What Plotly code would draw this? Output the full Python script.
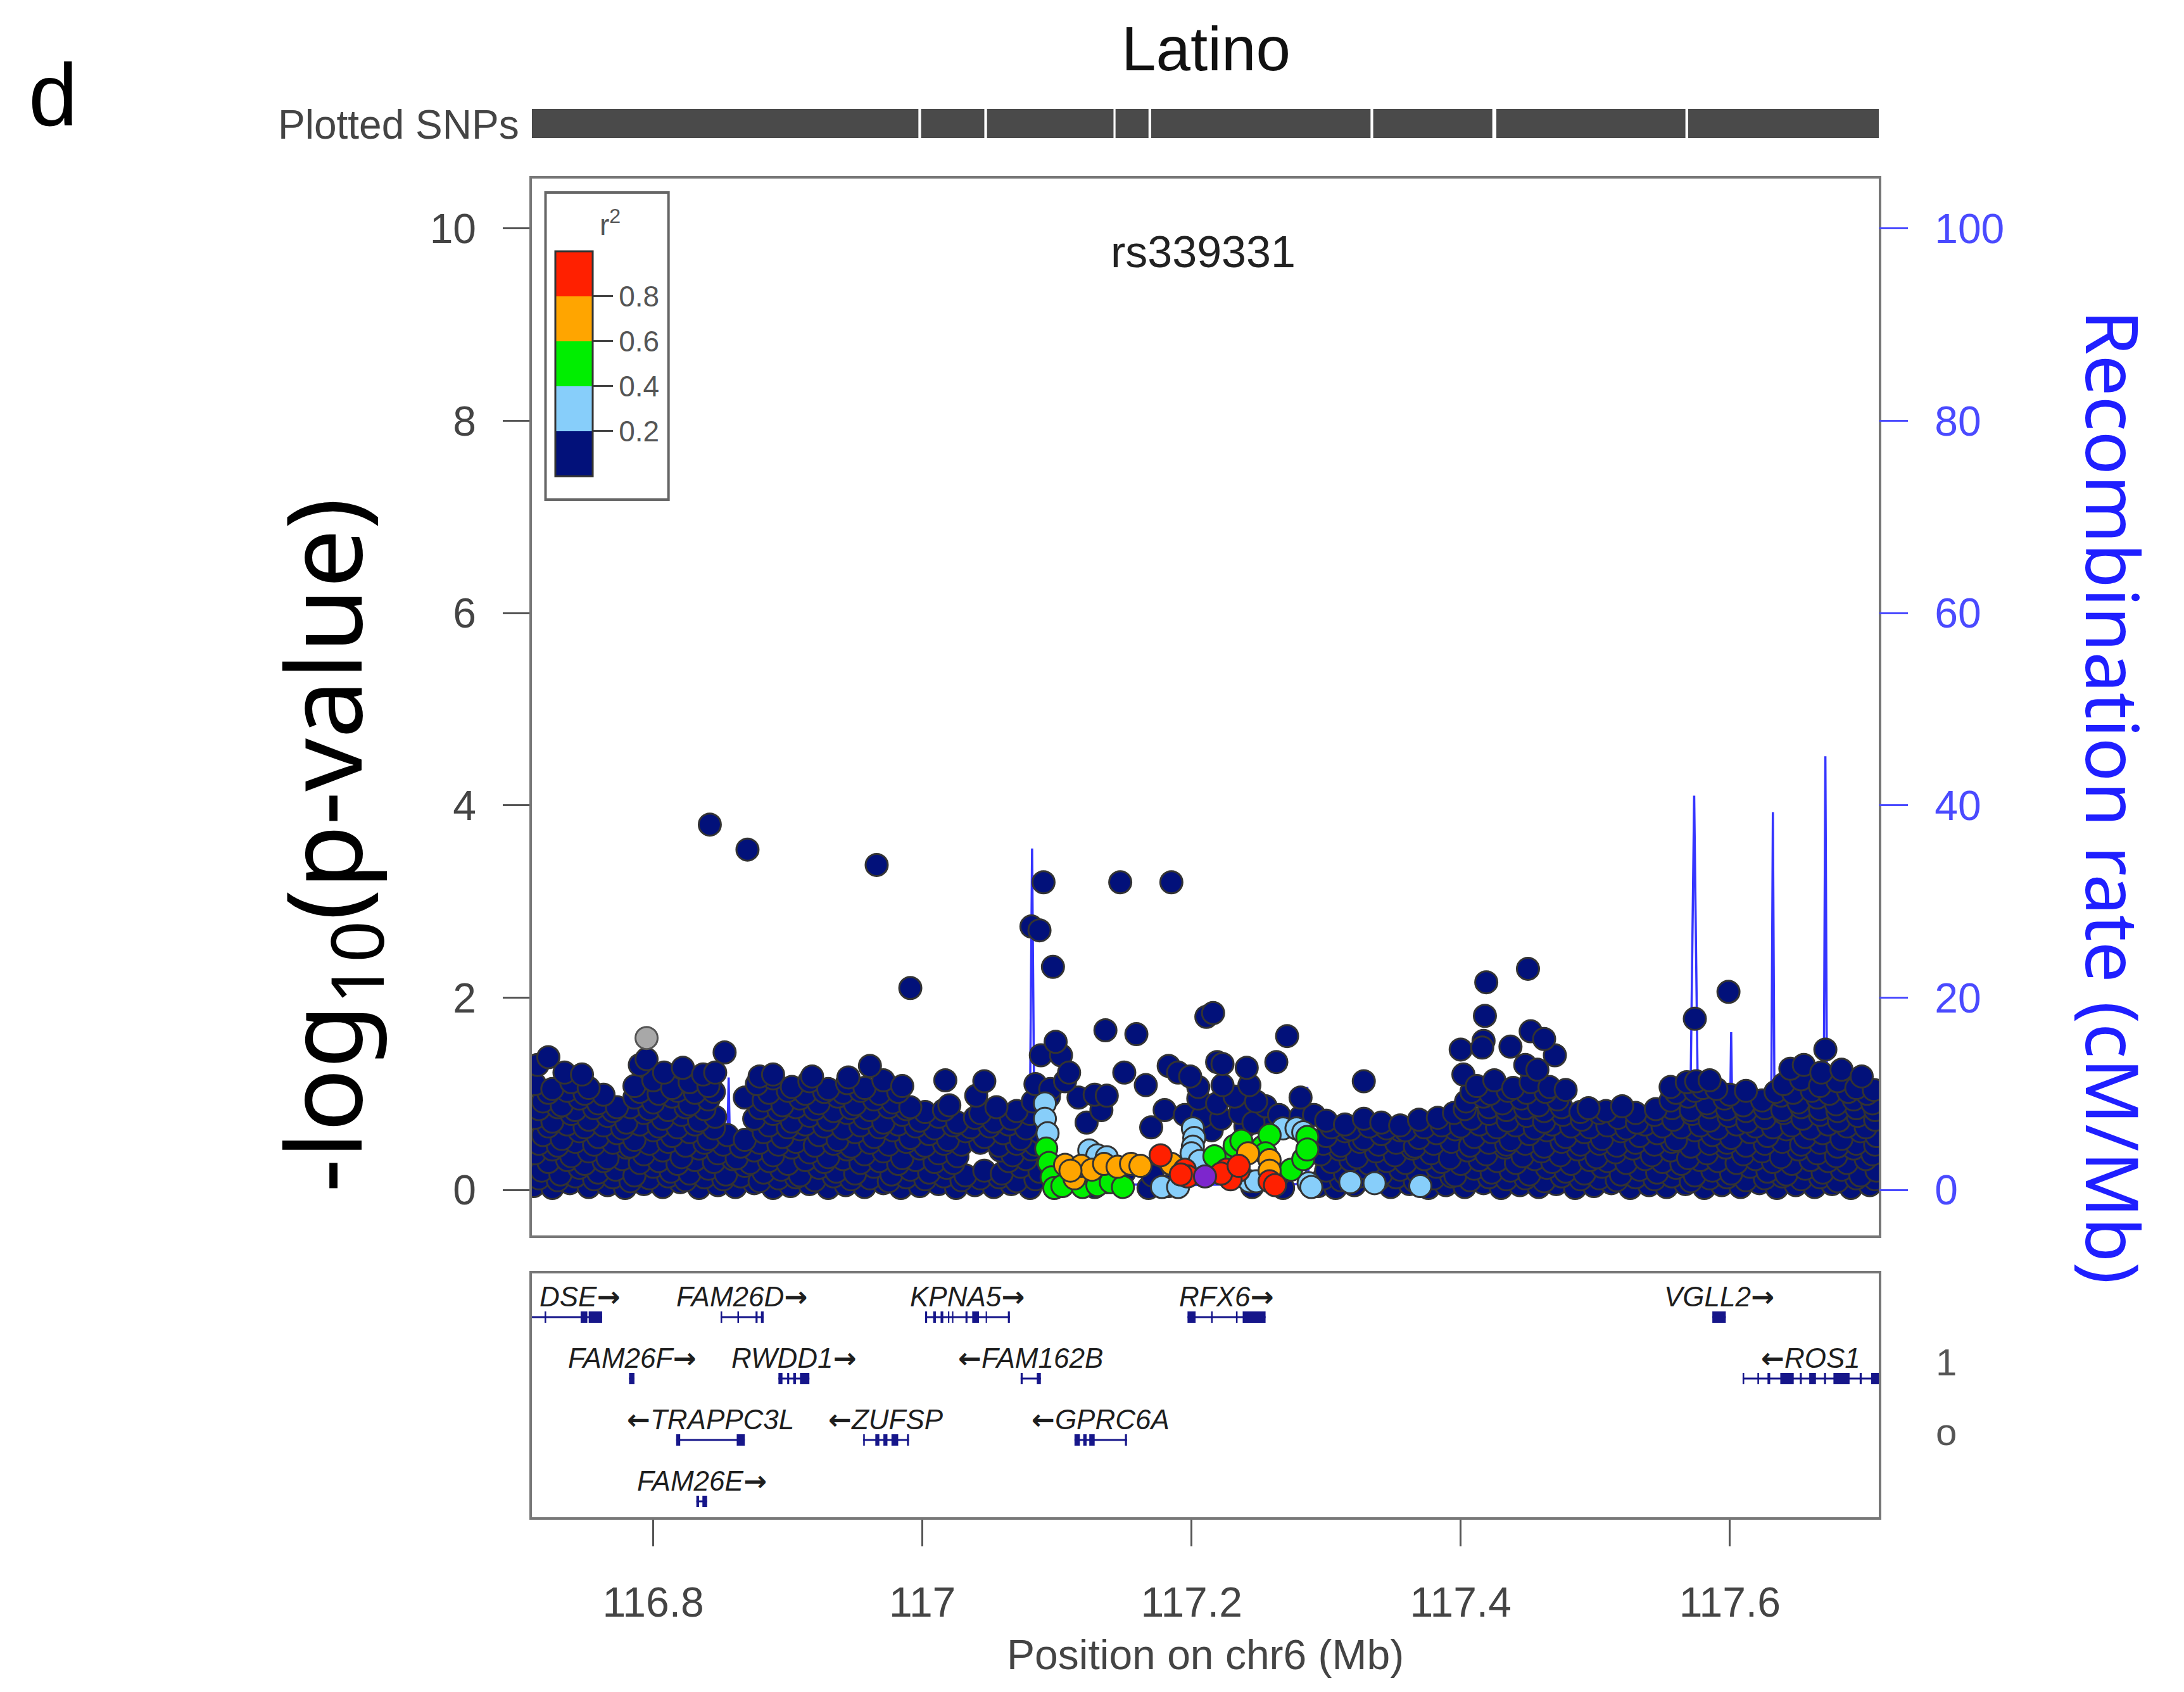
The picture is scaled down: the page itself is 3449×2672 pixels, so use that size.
import plotly.graph_objects as go

W, H = 3449, 2672

# ------------------------------------------------------------------ data
X_RANGE = [116.7098, 117.7107]          # Mb on chr6
P_RANGE = [-0.474, 10.52]               # -log10 p
RECOMB_RANGE = [-4.74, 105.2]           # cM/Mb
P_TICKS = [0, 2, 4, 6, 8, 10]
RECOMB_TICKS = [0, 20, 40, 60, 80, 100]
POS_TICKS = [116.8, 117.0, 117.2, 117.4, 117.6]
POS_TICK_TEXT = ["116.8", "117", "117.2", "117.4", "117.6"]
R2_TICKS = [0.2, 0.4, 0.6, 0.8]

# r2 bin colours (0-0.2, 0.2-0.4, 0.4-0.6, 0.6-0.8, 0.8-1)
LD_COLORS = ["#02117A", "#87CEFA", "#00EE00", "#FFA500", "#FF2000"]
R2_NAVY, R2_LBLUE, R2_GREEN, R2_ORANGE, R2_RED = 0.1, 0.3, 0.5, 0.7, 0.9

# dense background of low-LD SNPs (position Mb, -log10 p)
cloud_row0 = [(116.711,0.04),(116.725,0.02),(116.738,0.07),(116.752,0.03),(116.766,0.05),(116.779,0.02),(116.793,0.06),(116.807,0.03),(116.820,0.08),(116.834,0.02),(116.848,0.05),(116.861,0.03),(116.875,0.07),(116.889,0.02),(116.902,0.04),(116.916,0.06),(116.930,0.02),(116.943,0.05),(116.957,0.03),(116.971,0.07),(116.984,0.02),(116.998,0.04),(117.012,0.06),(117.025,0.02),(117.039,0.05),(117.053,0.03),(117.066,0.06),(117.080,0.02),(117.128,0.03),(117.168,0.02),(117.183,0.04),(117.245,0.03),(117.268,0.02),(117.294,0.04),(117.307,0.02),(117.321,0.05),(117.348,0.03),(117.362,0.06),(117.376,0.02),(117.389,0.05),(117.403,0.03),(117.417,0.07),(117.430,0.02),(117.444,0.05),(117.458,0.03),(117.471,0.06),(117.485,0.02),(117.499,0.04),(117.512,0.07),(117.526,0.02),(117.540,0.05),(117.553,0.03),(117.567,0.06),(117.581,0.02),(117.594,0.05),(117.608,0.03),(117.622,0.07),(117.635,0.02),(117.649,0.05),(117.663,0.03),(117.676,0.06),(117.690,0.02),(117.704,0.05)]
cloud_row0b = [(116.715,0.12),(116.729,0.10),(116.742,0.14),(116.756,0.11),(116.770,0.13),(116.783,0.09),(116.797,0.12),(116.811,0.14),(116.824,0.10),(116.838,0.13),(116.852,0.11),(116.865,0.14),(116.879,0.09),(116.893,0.12),(116.906,0.13),(116.920,0.10),(116.934,0.14),(116.947,0.11),(116.961,0.12),(116.975,0.09),(116.988,0.13),(117.002,0.11),(117.016,0.14),(117.029,0.10),(117.043,0.12),(117.057,0.13),(117.070,0.09),(117.084,0.11),(117.298,0.12),(117.311,0.10),(117.325,0.14),(117.339,0.11),(117.352,0.13),(117.366,0.09),(117.380,0.12),(117.393,0.14),(117.407,0.10),(117.421,0.13),(117.434,0.11),(117.448,0.12),(117.462,0.09),(117.475,0.14),(117.489,0.11),(117.503,0.12),(117.516,0.10),(117.530,0.13),(117.544,0.11),(117.557,0.14),(117.571,0.09),(117.585,0.12),(117.598,0.13),(117.612,0.10),(117.626,0.12),(117.639,0.14),(117.653,0.11),(117.667,0.13),(117.680,0.09),(117.694,0.12),(117.708,0.11)]
cloud_row1 = [(116.717,0.20),(116.731,0.16),(116.745,0.23),(116.759,0.18),(116.772,0.21),(116.786,0.15),(116.800,0.24),(116.813,0.19),(116.827,0.17),(116.841,0.22),(116.854,0.16),(116.868,0.25),(116.882,0.18),(116.895,0.21),(116.909,0.15),(116.923,0.23),(116.936,0.19),(116.950,0.17),(116.964,0.24),(116.977,0.16),(116.991,0.21),(117.005,0.18),(117.018,0.23),(117.032,0.15),(117.046,0.20),(117.059,0.17),(117.073,0.24),(117.087,0.19),(117.150,0.18),(117.171,0.15),(117.265,0.16),(117.300,0.20),(117.314,0.17),(117.327,0.23),(117.341,0.16),(117.355,0.21),(117.368,0.18),(117.382,0.24),(117.396,0.15),(117.410,0.22),(117.423,0.18),(117.437,0.20),(117.451,0.16),(117.464,0.23),(117.478,0.19),(117.492,0.17),(117.505,0.24),(117.519,0.16),(117.533,0.21),(117.546,0.18),(117.560,0.23),(117.574,0.15),(117.587,0.20),(117.601,0.17),(117.615,0.24),(117.628,0.19),(117.642,0.16),(117.656,0.22),(117.669,0.18),(117.683,0.21),(117.697,0.15),(117.709,0.20)]
cloud_row1b = [(116.722,0.29),(116.736,0.31),(116.749,0.27),(116.763,0.30),(116.777,0.32),(116.790,0.28),(116.804,0.30),(116.818,0.27),(116.831,0.31),(116.845,0.29),(116.859,0.32),(116.872,0.28),(116.886,0.30),(116.900,0.27),(116.913,0.31),(116.927,0.29),(116.941,0.32),(116.954,0.28),(116.968,0.30),(116.982,0.27),(116.995,0.31),(117.009,0.29),(117.023,0.28),(117.064,0.30),(117.077,0.32),(117.304,0.29),(117.318,0.31),(117.332,0.27),(117.345,0.30),(117.359,0.28),(117.373,0.32),(117.386,0.29),(117.400,0.27),(117.414,0.31),(117.427,0.30),(117.441,0.28),(117.455,0.32),(117.468,0.29),(117.482,0.27),(117.496,0.31),(117.509,0.30),(117.523,0.28),(117.537,0.32),(117.550,0.29),(117.564,0.27),(117.578,0.31),(117.591,0.30),(117.605,0.28),(117.619,0.32),(117.632,0.29),(117.646,0.27),(117.660,0.31),(117.673,0.30),(117.687,0.28),(117.701,0.32)]
cloud_row2 = [(116.712,0.38),(116.725,0.42),(116.739,0.35),(116.752,0.40),(116.766,0.33),(116.780,0.44),(116.793,0.37),(116.807,0.41),(116.821,0.34),(116.834,0.43),(116.848,0.38),(116.862,0.33),(116.875,0.41),(116.889,0.36),(116.903,0.44),(116.916,0.39),(116.930,0.34),(116.944,0.42),(116.957,0.37),(116.971,0.40),(116.985,0.33),(116.998,0.43),(117.012,0.38),(117.026,0.35),(117.058,0.41),(117.067,0.36),(117.081,0.42),(117.296,0.37),(117.310,0.42),(117.323,0.34),(117.337,0.40),(117.351,0.36),(117.364,0.43),(117.378,0.38),(117.392,0.33),(117.405,0.41),(117.419,0.37),(117.433,0.44),(117.446,0.35),(117.460,0.40),(117.474,0.36),(117.487,0.42),(117.501,0.34),(117.515,0.39),(117.528,0.43),(117.542,0.36),(117.556,0.41),(117.569,0.33),(117.583,0.38),(117.597,0.44),(117.610,0.37),(117.624,0.40),(117.638,0.34),(117.651,0.42),(117.665,0.38),(117.679,0.35),(117.692,0.43),(117.706,0.37)]
cloud_row2b = [(116.715,0.48),(116.729,0.46),(116.742,0.50),(116.756,0.47),(116.770,0.49),(116.783,0.45),(116.797,0.48),(116.811,0.50),(116.824,0.46),(116.838,0.49),(116.852,0.47),(116.865,0.45),(116.879,0.49),(116.893,0.47),(116.906,0.50),(116.920,0.46),(116.934,0.48),(116.947,0.45),(116.961,0.49),(116.975,0.47),(116.988,0.50),(117.002,0.46),(117.016,0.48),(117.029,0.47),(117.043,0.49),(117.057,0.46),(117.070,0.48),(117.084,0.47),(117.298,0.48),(117.311,0.46),(117.325,0.50),(117.339,0.47),(117.352,0.49),(117.366,0.45),(117.380,0.48),(117.393,0.50),(117.407,0.46),(117.421,0.49),(117.434,0.47),(117.448,0.48),(117.462,0.45),(117.475,0.50),(117.489,0.47),(117.503,0.48),(117.516,0.46),(117.530,0.49),(117.544,0.47),(117.557,0.50),(117.571,0.45),(117.585,0.48),(117.598,0.49),(117.612,0.46),(117.626,0.48),(117.639,0.50),(117.653,0.47),(117.667,0.49),(117.680,0.45),(117.694,0.48),(117.708,0.47)]
cloud_row3 = [(116.718,0.57),(116.732,0.53),(116.745,0.61),(116.759,0.55),(116.773,0.59),(116.786,0.52),(116.800,0.62),(116.814,0.56),(116.827,0.60),(116.841,0.53),(116.855,0.57),(116.868,0.52),(116.882,0.60),(116.896,0.55),(116.909,0.63),(116.923,0.57),(116.937,0.52),(116.950,0.60),(116.964,0.55),(116.978,0.62),(116.991,0.54),(117.005,0.58),(117.019,0.52),(117.032,0.61),(117.046,0.55),(117.060,0.59),(117.073,0.53),(117.087,0.60),(117.215,0.62),(117.240,0.66),(117.262,0.70),(117.300,0.56),(117.314,0.61),(117.328,0.53),(117.341,0.58),(117.355,0.62),(117.369,0.54),(117.382,0.59),(117.396,0.63),(117.410,0.55),(117.423,0.60),(117.437,0.52),(117.451,0.58),(117.464,0.62),(117.478,0.55),(117.492,0.60),(117.505,0.53),(117.519,0.61),(117.533,0.56),(117.546,0.59),(117.560,0.52),(117.574,0.62),(117.587,0.57),(117.601,0.54),(117.615,0.60),(117.628,0.56),(117.642,0.63),(117.656,0.55),(117.669,0.59),(117.683,0.53),(117.697,0.61),(117.709,0.56)]
cloud_row3b = [(116.722,0.66),(116.736,0.68),(116.749,0.65),(116.763,0.67),(116.777,0.64),(116.790,0.68),(116.804,0.66),(116.818,0.65),(116.831,0.68),(116.845,0.64),(116.886,0.67),(116.900,0.65),(116.913,0.68),(116.927,0.66),(116.941,0.64),(116.954,0.67),(116.968,0.65),(116.982,0.68),(116.995,0.66),(117.009,0.64),(117.023,0.67),(117.036,0.65),(117.050,0.66),(117.064,0.68),(117.077,0.64),(117.304,0.65),(117.318,0.63),(117.332,0.66),(117.345,0.64),(117.359,0.62),(117.373,0.65),(117.386,0.67),(117.400,0.66),(117.414,0.68),(117.427,0.65),(117.441,0.67),(117.455,0.64),(117.468,0.68),(117.482,0.66),(117.496,0.65),(117.509,0.67),(117.523,0.64),(117.537,0.68),(117.550,0.66),(117.564,0.65),(117.578,0.67),(117.591,0.64),(117.605,0.68),(117.619,0.66),(117.632,0.65),(117.646,0.67),(117.660,0.64),(117.673,0.68),(117.687,0.66),(117.701,0.65)]
cloud_row4 = [(116.712,0.75),(116.725,0.71),(116.739,0.79),(116.752,0.73),(116.766,0.77),(116.780,0.70),(116.793,0.80),(116.807,0.74),(116.821,0.78),(116.834,0.72),(116.846,0.76),(116.875,0.74),(116.889,0.79),(116.903,0.71),(116.916,0.77),(116.930,0.73),(116.944,0.80),(116.957,0.75),(116.971,0.70),(116.985,0.78),(116.998,0.72),(117.012,0.76),(117.026,0.70),(117.039,0.75),(117.053,0.71),(117.066,0.74),(117.080,0.79),(117.122,0.70),(117.133,0.83),(117.170,0.65),(117.180,0.83),(117.195,0.78),(117.208,0.76),(117.222,0.74),(117.236,0.80),(117.246,0.70),(117.255,0.87),(117.265,0.78),(117.281,0.76),(117.291,0.78),(117.300,0.72),(117.314,0.68),(117.328,0.74),(117.341,0.70),(117.355,0.67),(117.369,0.73),(117.383,0.75),(117.395,0.80),(117.408,0.74),(117.421,0.79),(117.435,0.72),(117.449,0.77),(117.462,0.71),(117.476,0.78),(117.490,0.73),(117.503,0.80),(117.517,0.75),(117.531,0.70),(117.544,0.78),(117.558,0.73),(117.572,0.79),(117.585,0.72),(117.599,0.77),(117.613,0.71),(117.626,0.75),(117.640,0.80),(117.654,0.74),(117.667,0.78),(117.681,0.72),(117.695,0.77),(117.708,0.73)]
cloud_row4b = [(116.715,0.84),(116.729,0.86),(116.742,0.83),(116.756,0.85),(116.770,0.82),(116.783,0.86),(116.797,0.84),(116.811,0.83),(116.824,0.86),(116.838,0.84),(116.879,0.85),(116.893,0.83),(116.906,0.86),(116.920,0.84),(116.934,0.82),(116.947,0.85),(116.961,0.83),(116.975,0.86),(116.988,0.84),(117.002,0.81),(117.016,0.83),(117.043,0.80),(117.070,0.82),(117.403,0.84),(117.421,0.86),(117.434,0.83),(117.448,0.85),(117.462,0.82),(117.475,0.86),(117.489,0.81),(117.508,0.82),(117.530,0.80),(117.557,0.85),(117.571,0.83),(117.585,0.86),(117.598,0.84),(117.612,0.82),(117.626,0.85),(117.639,0.83),(117.653,0.86),(117.667,0.84),(117.680,0.82),(117.694,0.85),(117.708,0.83)]
cloud_row5 = [(116.718,0.92),(116.732,0.88),(116.745,0.95),(116.759,0.90),(116.773,0.86),(116.786,0.96),(116.800,0.91),(116.814,0.97),(116.827,0.89),(116.841,0.94),(116.868,0.96),(116.882,0.93),(116.896,0.88),(116.909,0.95),(116.923,0.90),(116.937,0.97),(116.950,0.89),(116.964,0.94),(116.978,0.91),(116.991,0.86),(117.020,0.88),(117.055,0.86),(117.082,0.92),(117.094,0.97),(117.116,0.96),(117.128,0.99),(117.137,0.98),(117.205,0.95),(117.219,0.90),(117.232,0.97),(117.248,0.92),(117.281,0.96),(117.404,0.92),(117.417,0.97),(117.431,0.90),(117.445,0.95),(117.458,0.88),(117.472,0.94),(117.495,0.85),(117.520,0.87),(117.545,0.84),(117.556,0.93),(117.569,0.97),(117.583,0.90),(117.596,0.95),(117.610,0.88),(117.624,0.93),(117.638,0.98),(117.651,0.91),(117.665,0.96),(117.679,0.89),(117.692,0.94),(117.706,0.90)]
cloud_row5b = [(116.722,1.01),(116.736,1.03),(116.749,1.00),(116.763,0.99),(116.790,1.02),(116.804,1.00),(116.818,1.03),(116.831,1.01),(116.845,1.02),(116.886,1.01),(116.900,1.03),(116.913,1.00),(116.927,1.02),(116.941,1.01),(116.954,1.03),(116.968,1.00),(116.982,1.02),(117.408,1.02),(117.422,1.00),(117.435,1.03),(117.449,1.01),(117.463,1.02),(117.560,1.01),(117.574,1.03),(117.600,0.99),(117.634,1.02),(117.647,1.01),(117.661,1.03),(117.674,1.00),(117.688,1.02),(117.702,1.00)]
cloud_row6 = [(116.712,1.10),(116.725,1.05),(116.739,1.12),(116.752,1.06),(116.786,1.08),(116.800,1.14),(116.814,1.06),(116.827,1.12),(116.841,1.08),(116.877,1.10),(116.889,1.16),(116.903,1.07),(116.916,1.13),(116.930,1.05),(116.944,1.11),(116.957,1.06),(116.971,1.14),(116.985,1.08),(117.084,1.10),(117.095,1.05),(117.106,1.13),(117.166,1.09),(117.205,1.07),(117.223,1.09),(117.243,1.09),(117.402,1.20),(117.412,1.08),(117.425,1.14),(117.439,1.06),(117.452,1.12),(117.466,1.07),(117.478,1.04),(117.556,1.07),(117.568,1.12),(117.580,1.06),(117.590,1.05),(117.612,1.03),(117.640,1.10),(117.653,1.15),(117.667,1.08),(117.680,1.13),(117.694,1.06),(117.707,1.04)]
cloud_top = [(116.714,1.30),(116.722,1.38),(116.734,1.22),(116.747,1.20),(116.790,1.30),(116.795,1.36),(116.808,1.22),(116.822,1.27),(116.837,1.20),(116.846,1.22),(116.879,1.18),(116.889,1.20),(116.918,1.18),(116.945,1.17),(116.961,1.29),(117.040,0.98),(117.088,1.40),(117.103,1.40),(117.109,1.22),(117.150,1.22),(117.183,1.29),(117.190,1.22),(117.199,1.18),(117.219,1.33),(117.223,1.31),(117.241,1.27),(117.263,1.33),(117.400,1.46),(117.417,1.55),(117.437,1.49),(117.448,1.30),(117.416,1.48),(117.470,1.40),(117.457,1.25),(117.575,1.13),(117.585,1.14),(117.645,1.26),(117.655,1.30),(117.668,1.22),(117.683,1.25),(117.698,1.18)]
navy_outliers = [(116.842,3.80),(116.870,3.54),(116.966,3.38),(116.991,2.10),(117.090,3.20),(117.081,2.74),(117.087,2.70),(117.097,2.32),(117.147,3.20),(117.185,3.20),(117.136,1.66),(117.159,1.62),(117.211,1.80),(117.216,1.84),(117.271,1.60),(117.328,1.13),(117.419,2.16),(117.418,1.81),(117.450,2.30),(117.452,1.65),(117.462,1.57),(117.574,1.78),(117.599,2.06),(117.671,1.46),(116.853,1.43),(117.017,1.14),(117.046,1.13),(117.099,1.54)]

lightblue_snps = [(117.091,0.90),(117.091,0.74),(117.093,0.59),(117.124,0.41),(117.130,0.36),(117.137,0.34),(117.137,0.08),(117.201,0.64),(117.202,0.54),(117.201,0.45),(117.200,0.38),(117.178,0.03),(117.190,0.03),(117.243,0.09),(117.248,0.09),(117.268,0.64),(117.278,0.64),(117.283,0.60),(117.287,0.07),(117.318,0.08),(117.336,0.07),(117.370,0.04),(117.289,0.03),(117.206,0.30)]
green_snps = [(117.092,0.43),(117.094,0.28),(117.096,0.13),(117.098,0.02),(117.104,0.04),(117.119,0.03),(117.130,0.05),(117.140,0.08),(117.149,0.03),(117.222,0.30),(117.232,0.46),(117.237,0.51),(117.253,0.45),(117.258,0.57),(117.255,0.38),(117.274,0.21),(117.283,0.32),(117.286,0.55),(117.286,0.42),(117.217,0.35)]
orange_snps = [(117.106,0.26),(117.113,0.12),(117.118,0.25),(117.126,0.21),(117.135,0.27),(117.145,0.24),(117.155,0.27),(117.162,0.25),(117.185,0.27),(117.242,0.38),(117.258,0.31),(117.258,0.20),(117.110,0.20)]
red_snps = [(117.177,0.36),(117.195,0.21),(117.197,0.14),(117.226,0.21),(117.235,0.20),(117.229,0.11),(117.258,0.09),(117.222,0.17),(117.235,0.25),(117.192,0.16),(117.262,0.05)]
grey_snp = (116.795, 1.58)          # no LD information
index_snp = (117.210, 0.14)         # rs339331

# recombination rate
RECOMB_POS = [116.710, 116.740, 116.780, 116.8545, 116.856, 116.8575, 116.900, 116.980, 117.050, 117.0795, 117.0815, 117.0835,
              117.120, 117.200, 117.241, 117.242, 117.243, 117.285, 117.286, 117.287, 117.350, 117.450, 117.550,
              117.570, 117.5735, 117.577, 117.5995, 117.601, 117.6025, 117.618, 117.619, 117.620,
              117.6305, 117.632, 117.6335, 117.6695, 117.671, 117.6725, 117.711]
RECOMB_RATE = [0.5, 0.3, 0.8, 0.6, 11.7, 0.6, 0.4, 0.5, 0.7, 0.8, 35.5, 1.0,
               0.6, 0.5, 0.6, 8.7, 0.6, 0.6, 10.7, 0.5, 0.3, 0.6, 0.5,
               0.8, 41.0, 0.8, 0.6, 16.4, 0.6, 0.5, 8.5, 0.5,
               0.7, 39.3, 0.7, 0.8, 45.1, 0.9, 0.6]

# genes: name, start, end, strand, row, exons
GENES = [
    ("DSE", 116.650, 116.762, "+", 1, [(116.7192, 116.7204), (116.746, 116.751), (116.752, 116.762)]),
    ("FAM26D", 116.850, 116.882, "+", 1, [(116.850, 116.8512), (116.8625, 116.8637), (116.876, 116.8775), (116.880, 116.882)]),
    ("KPNA5", 117.002, 117.065, "+", 1, [(117.002, 117.0035), (117.008, 117.010), (117.0135, 117.0155), (117.019, 117.020), (117.022, 117.023), (117.032, 117.0335), (117.037, 117.042), (117.047, 117.048), (117.0635, 117.065)]),
    ("RFX6", 117.197, 117.255, "+", 1, [(117.197, 117.203), (117.2145, 117.2157), (117.233, 117.2342), (117.238, 117.255)]),
    ("VGLL2", 117.587, 117.597, "+", 1, [(117.587, 117.597)]),
    ("FAM26F", 116.782, 116.786, "+", 2, [(116.782, 116.786)]),
    ("RWDD1", 116.893, 116.916, "+", 2, [(116.893, 116.896), (116.8995, 116.901), (116.904, 116.906), (116.909, 116.916)]),
    ("FAM162B", 117.073, 117.088, "-", 2, [(117.073, 117.0745), (117.085, 117.088)]),
    ("ROS1", 117.6095, 117.760, "-", 2, [(117.6095, 117.6107), (117.6205, 117.6217), (117.628, 117.630), (117.6375, 117.6475), (117.652, 117.6535), (117.659, 117.664), (117.670, 117.6715), (117.677, 117.689), (117.6965, 117.698), (117.705, 117.711)]),
    ("TRAPPC3L", 116.817, 116.868, "-", 3, [(116.817, 116.820), (116.862, 116.868)]),
    ("ZUFSP", 116.956, 116.990, "-", 3, [(116.956, 116.9572), (116.965, 116.968), (116.971, 116.974), (116.977, 116.982), (116.9885, 116.990)]),
    ("GPRC6A", 117.113, 117.152, "-", 3, [(117.113, 117.117), (117.1195, 117.122), (117.124, 117.128), (117.1505, 117.152)]),
    ("FAM26E", 116.832, 116.840, "+", 4, [(116.832, 116.834), (116.8365, 116.840)]),
]

# stretches covered by plotted SNPs (gaps show as thin white lines)
SNP_COVERAGE = [(116.7098, 116.997), (116.999, 117.046), (117.048, 117.142), (117.1435, 117.168),
                (117.170, 117.333), (117.335, 117.4235), (117.4265, 117.567), (117.569, 117.7107)]

# ------------------------------------------------------------------ helpers
SANS = "Liberation Sans, Arial, sans-serif"
TITLE_FONT = "Noto Sans, Open Sans, sans-serif"
NAVY_GENE = "#16168A"


def px_x(px):
    return px / W


def px_y(py):
    return 1 - py / H


MAIN_X_DOM = [px_x(840), px_x(2967)]
MAIN_Y_DOM = [px_y(1951), px_y(282)]
GENE_Y_DOM = [px_y(2396), px_y(2011)]
SNP_Y_DOM = [px_y(218), px_y(172)]

fig = go.Figure()

# recombination line (behind the SNPs)
fig.add_trace(go.Scatter(x=RECOMB_POS, y=RECOMB_RATE, mode="lines",
                         line=dict(color="#3535ff", width=3.5),
                         xaxis="x", yaxis="y", hoverinfo="skip"))

# LD-coloured SNPs, drawn in increasing r2 order
cloud = (cloud_row0 + cloud_row0b + cloud_row1 + cloud_row1b + cloud_row2 + cloud_row2b + cloud_row3
         + cloud_row3b + cloud_row4 + cloud_row4b + cloud_row5 + cloud_row5b + cloud_row6 + cloud_top + navy_outliers)
groups = [
    (cloud, R2_NAVY),
    (lightblue_snps, R2_LBLUE),
    (green_snps, R2_GREEN),
    (orange_snps, R2_ORANGE),
    (red_snps, R2_RED),
]
sx, sy, sc = [], [], []
for pts, r2 in groups:
    for x, y in pts:
        sx.append(x)
        sy.append(y)
        sc.append(r2)

scale = []
for i, c in enumerate(LD_COLORS):
    scale.append([i / 5, c])
    scale.append([(i + 1) / 5, c])

fig.add_trace(go.Scatter(
    x=sx, y=sy, mode="markers", xaxis="x", yaxis="y2", hoverinfo="skip",
    marker=dict(size=35, color=sc, cmin=0, cmax=1, colorscale=scale,
                line=dict(color="#333333", width=3),
                showscale=True,
                colorbar=dict(
                    x=px_x(865), xanchor="left", y=px_y(782), yanchor="bottom",
                    len=478, lenmode="pixels", thickness=59, thicknessmode="pixels",
                    xpad=12, ypad=30, tickvals=R2_TICKS, ticks="outside",
                    ticklen=31, tickwidth=3, tickcolor="#444",
                    tickfont=dict(size=46, color="#555", family=SANS),
                    outlinecolor="#333", outlinewidth=3,
                    bordercolor="#666", borderwidth=4, bgcolor="white",
                    title=dict(text="r<sup>2</sup>", side="top",
                               font=dict(size=45, color="rgba(0,0,0,0)", family=SANS))))))

fig.add_trace(go.Scatter(x=[grey_snp[0]], y=[grey_snp[1]], mode="markers", xaxis="x", yaxis="y2",
                         hoverinfo="skip",
                         marker=dict(size=35, color="#A8A8A8", line=dict(color="#555", width=3))))
fig.add_trace(go.Scatter(x=[index_snp[0]], y=[index_snp[1]], mode="markers", xaxis="x", yaxis="y2",
                         hoverinfo="skip",
                         marker=dict(size=35, color="#7D26CD", line=dict(color="#333", width=3))))

# genes
ix, iy, ex, ey = [], [], [], []
annotations = []
px_per_mb = (2967 - 840) / (X_RANGE[1] - X_RANGE[0])
GENE_FONT = 44
ARROW_R = '<span style="font-family:DejaVu Sans"><b>→</b></span>'
ARROW_L = '<span style="font-family:DejaVu Sans"><b>←</b></span>'
for name, start, end, strand, row, exons in GENES:
    s = max(start, X_RANGE[0])
    e = min(end, X_RANGE[1])
    ix += [s, e, None]
    iy += [row, row, None]
    for a, b in exons:
        a, b = max(a, X_RANGE[0]), min(b, X_RANGE[1])
        ex += [a, b, None]
        ey += [row, row, None]
    label = f"<i>{name}</i>{ARROW_R}" if strand == "+" else f"{ARROW_L}<i>{name}</i>"
    half = (len(name) * 0.6 + 1.0) * GENE_FONT / 2 / px_per_mb
    mid = (s + e) / 2
    mid = max(mid, X_RANGE[0] + half + 14 / px_per_mb)
    mid = min(mid, X_RANGE[1] - half - 14 / px_per_mb)
    annotations.append(dict(text=label, x=mid, y=row - 0.33, xref="x2", yref="y3",
                            showarrow=False, xanchor="center", yanchor="middle",
                            font=dict(size=GENE_FONT, color="#1e1e1e", family=SANS)))

fig.add_trace(go.Scatter(x=ix, y=iy, mode="lines", line=dict(color=NAVY_GENE, width=3),
                         xaxis="x2", yaxis="y3", hoverinfo="skip"))
fig.add_trace(go.Scatter(x=ex, y=ey, mode="lines", line=dict(color=NAVY_GENE, width=18),
                         xaxis="x2", yaxis="y3", hoverinfo="skip"))

# plotted-SNP track
fig.add_trace(go.Bar(y=[0] * len(SNP_COVERAGE), x=[b - a for a, b in SNP_COVERAGE],
                     base=[a for a, b in SNP_COVERAGE], orientation="h", width=1,
                     marker=dict(color="#4a4a4a", line=dict(width=0)),
                     xaxis="x3", yaxis="y4", hoverinfo="skip"))


def ann(text, px, py, size, color, family=SANS, angle=0, xanchor="center", yanchor="middle"):
    return dict(text=text, x=px_x(px), y=px_y(py), xref="paper", yref="paper", showarrow=False,
                font=dict(size=size, color=color, family=family), textangle=angle,
                xanchor=xanchor, yanchor=yanchor)


annotations += [
    ann("d", 84, 150, 140, "#000000"),
    ann("Latino", 1905, 77, 98, "#111111"),
    ann("Plotted SNPs", 822, 197, 64, "#444444", xanchor="right"),
    ann("r<sup>2</sup>", 963, 352, 46, "#555555"),
    ann("rs339331", 1900, 398, 70, "#222222"),
    ann("-log<sub>10</sub>(p-value)", 517, 1335, 165, "#000000", family=TITLE_FONT, angle=-90),
    ann("Recombination rate (cM/Mb)", 3339, 1258, 115, "#1f1fff", family=TITLE_FONT, angle=90),
    ann("1", 3073, 2151, 60, "#555555"),
    ann("o", 3073, 2261, 60, "#555555"),
    ann("Position on chr6 (Mb)", 1903, 2613, 66, "#444444"),
]

BOX = dict(showline=True, mirror=True, linecolor="#777777", linewidth=3.5,
           showgrid=False, zeroline=False)

fig.update_layout(
    width=W, height=H, autosize=False,
    margin=dict(l=0, r=0, t=0, b=0, pad=0),
    paper_bgcolor="white", plot_bgcolor="white",
    showlegend=False,
    annotations=annotations,
    xaxis=dict(domain=MAIN_X_DOM, range=X_RANGE, anchor="y", showticklabels=False, ticks="", **BOX),
    yaxis=dict(domain=MAIN_Y_DOM, range=RECOMB_RANGE, anchor="x", side="right",
               tickvals=RECOMB_TICKS, ticks="outside", ticklen=45, tickwidth=3, tickcolor="#4a4aff",
               tickfont=dict(size=66, color="#4a4aff", family=SANS), ticklabelstandoff=29,
               showline=False, showgrid=False, zeroline=False),
    yaxis2=dict(overlaying="y", side="left", anchor="x", range=P_RANGE,
                tickvals=P_TICKS, ticks="outside", ticklen=42, tickwidth=3, tickcolor="#555",
                tickfont=dict(size=66, color="#444", family=SANS), ticklabelstandoff=29, **BOX),
    xaxis2=dict(domain=MAIN_X_DOM, range=X_RANGE, anchor="y3",
                tickvals=POS_TICKS, ticktext=POS_TICK_TEXT, ticks="outside", ticklen=42, tickwidth=3,
                tickcolor="#555", tickfont=dict(size=66, color="#444", family=SANS),
                ticklabelstandoff=32, **BOX),
    yaxis3=dict(domain=GENE_Y_DOM, range=[4.258, 0.289], anchor="x2",
                showticklabels=False, ticks="", **BOX),
    xaxis3=dict(domain=MAIN_X_DOM, range=X_RANGE, anchor="y4", visible=False),
    yaxis4=dict(domain=SNP_Y_DOM, range=[-0.5, 0.5], anchor="x3", visible=False),
)

fig.write_html("out.html", config={"displayModeBar": False})
